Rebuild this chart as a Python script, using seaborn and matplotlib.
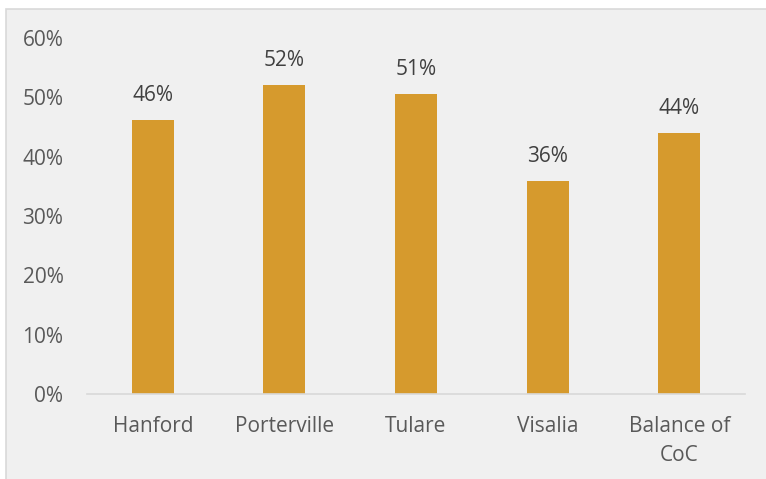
import numpy as np
import pandas as pd
import seaborn as sns
import matplotlib.pyplot as plt
from matplotlib.patches import Rectangle

# Chart data
sites = ["Hanford", "Porterville", "Tulare", "Visalia", "Balance of\nCoC"]
rates = [0.462, 0.521, 0.506, 0.359, 0.440]
yticks = [0, 0.1, 0.2, 0.3, 0.4, 0.5, 0.6]

df = pd.DataFrame({"site": sites, "rate": rates})

sns.set_style("white")
plt.rcParams['font.family'] = ['Open Sans', 'DejaVu Sans']

bg = "#F0F0F0"
fig = plt.figure(figsize=(7.66, 4.79), dpi=100, facecolor="white")
# panel background with light border on top/left only
fig.patches.append(Rectangle((5.5 / 766, -0.05), 1.1, 1.05 - 8.5 / 479, transform=fig.transFigure,
                             facecolor=bg, edgecolor="#D9D9D9", linewidth=1.2, zorder=-1))

ax = fig.add_axes([87 / 766, 1 - 394 / 479, 658 / 766, 356 / 479])
ax.set_facecolor(bg)

sns.barplot(data=df, x="site", y="rate", color="#D69A2D", width=0.32,
            saturation=1, linewidth=0, ax=ax)

for i, v in enumerate(rates):
    ax.annotate(f"{round(v * 100):.0f}%", (i, v), xytext=(0, 10), textcoords="offset points",
                ha="center", va="bottom", fontsize=15, color="#404040")

ax.set_ylim(0, 0.6)
ax.set_xlim(-0.5, len(sites) - 0.5)
ax.set_yticks(yticks)
ax.set_yticklabels([f"{round(t * 100)}%" for t in yticks])
ax.set_xlabel("")
ax.set_ylabel("")
ax.tick_params(axis="both", length=0, labelsize=15, colors="#595959")
ax.tick_params(axis="y", pad=17)
ax.tick_params(axis="x", pad=16)
for lbl in ax.get_xticklabels():
    lbl.set_linespacing(1.5)

for s in ["top", "right", "left"]:
    ax.spines[s].set_visible(False)
ax.spines["bottom"].set_color("#D9D9D9")
ax.spines["bottom"].set_linewidth(1.2)

fig.savefig("out.png", dpi=100, facecolor=fig.get_facecolor())
